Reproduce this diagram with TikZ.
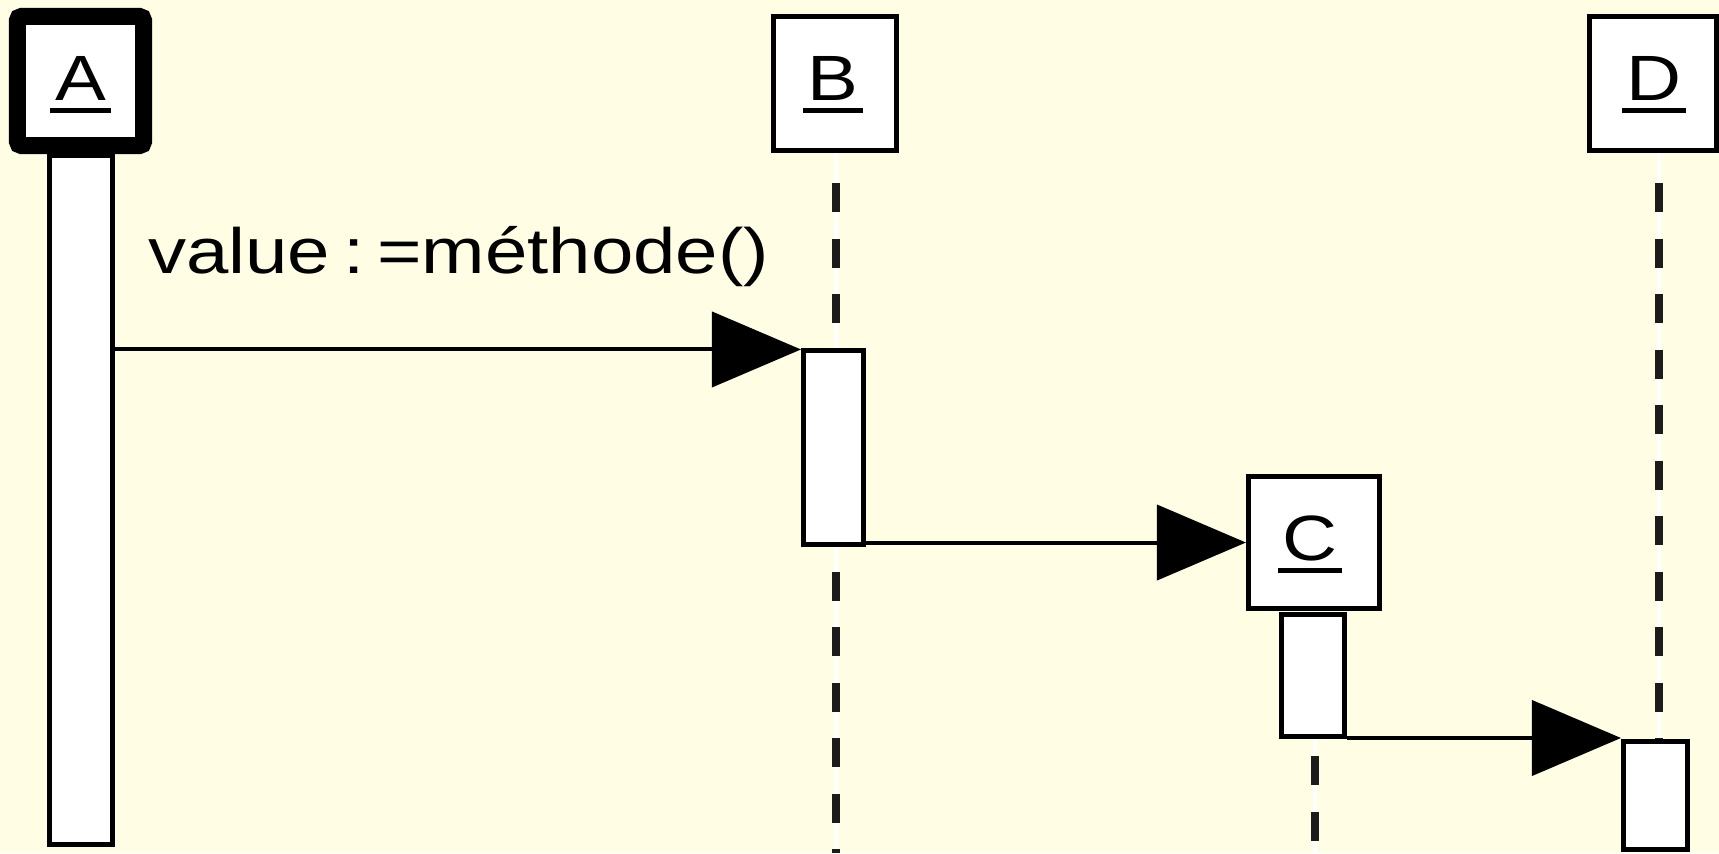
\documentclass[tikz,border=0pt]{standalone}
\usepackage{fontspec}
\newfontfamily\arialf{Liberation Sans}
\usetikzlibrary{arrows.meta}
\definecolor{bgyellow}{RGB}{255,254,228}
\definecolor{dashgray}{RGB}{28,28,28}
\pgfdeclarelayer{bg}
\pgfsetlayers{bg,main}
\newcommand{\wide}[1]{\scalebox{1.19}[1]{#1}}
\begin{document}
\begin{tikzpicture}[x=0.01cm,y=-0.01cm,
  box/.style={rectangle, draw=black, fill=white, line width=0.05cm, inner sep=0pt},
  bigbox/.style={box, line width=0.17cm, rounded corners=0.04cm},
  lbl/.style={font=\arialf\fontsize{18.2}{22}\selectfont, inner xsep=0.04cm, inner ysep=0pt},
  uline/.style={draw=black, line width=0.055cm},
  lifewhite/.style={draw=white, line width=0.04cm},
  lifedash/.style={draw=dashgray, line width=0.08cm, dash pattern=on 0.29cm off 0.265cm},
  msgarrow/.style={draw=black, line width=0.04cm, -{Triangle[length=0.89cm,width=0.75cm]}}]
\useasboundingbox (0,0) rectangle (1719,853);
% activation bars
\node[box, minimum width=0.63cm, minimum height=6.89cm] (Abar) at (81,500) {};
\node[box, minimum width=0.60cm, minimum height=1.94cm] (Bbar) at (833.5,447.5) {};
\node[box, minimum width=0.63cm, minimum height=1.22cm] (Cbar) at (1313,675.5) {};
\node[box, minimum width=0.64cm, minimum height=1.08cm] (Dbar) at (1655.5,795.5) {};
% object boxes
\node[bigbox, minimum width=1.26cm, minimum height=1.29cm] (Abox) at (80.5,81) {};
\node[box, minimum width=1.23cm, minimum height=1.34cm] (Bbox) at (835,83.5) {};
\node[box, minimum width=1.31cm, minimum height=1.32cm] (Cbox) at (1314,542.5) {};
\node[box, minimum width=1.27cm, minimum height=1.34cm] (Dbox) at (1653,83.5) {};
% labels
\node[lbl, anchor=base] (Alab) at (80.5,100) {\wide{A}};
\node[lbl, anchor=base] (Blab) at (833,100) {\wide{B}};
\node[lbl, anchor=base] (Clab) at (1310,560) {\wide{C}};
\node[lbl, anchor=base] (Dlab) at (1654,100) {\wide{D}};
\foreach \n in {Alab,Blab,Clab,Dlab}{
  \draw[uline] ([yshift=-0.105cm]\n.base west) -- ([yshift=-0.105cm]\n.base east);
}
\node[lbl, inner sep=0pt, anchor=base west] (msg) at (147.5,273)
  {\wide{value\hspace{0.17em}:\hspace{0.17em}=méthode()}};
% end points of lifelines
\coordinate (Bend) at (836,853);
\coordinate (Cend) at (1314.5,853);
% background and lifelines
\begin{pgfonlayer}{bg}
\fill[bgyellow] (0,0) rectangle (1719,853);
\draw[lifewhite] ([xshift=0.01cm]Bbox.south) -- ([xshift=0.01cm]Bbox.south |- Bend);
\draw[lifedash] ([xshift=0.01cm,yshift=-0.30cm]Bbox.south) -- ([xshift=0.01cm]Bbox.south |- Bend);
\draw[lifewhite] (Cbar.south -| Cend) -- (Cend);
\draw[lifedash] ([yshift=-0.17cm]Cbar.south -| Cend) -- (Cend);
\draw[lifewhite] ([xshift=0.055cm]Dbox.south) -- ([xshift=0.055cm]Dbox.south |- Dbar.north);
\draw[lifedash] ([xshift=0.055cm,yshift=-0.30cm]Dbox.south) -- ([xshift=0.055cm]Dbox.south |- Dbar.north);
\end{pgfonlayer}
% messages
\draw[msgarrow] ([yshift=-0.015cm]Abar.east |- Bbar.north west) -- ([yshift=-0.015cm]Bbar.north west);
\draw[msgarrow] (Bbar.east |- Cbox.west) -- (Cbox.west);
\draw[msgarrow] ([yshift=0.01cm]Cbar.east |- Dbar.north west) -- ([yshift=0.01cm]Dbar.north west);
\end{tikzpicture}
\end{document}
